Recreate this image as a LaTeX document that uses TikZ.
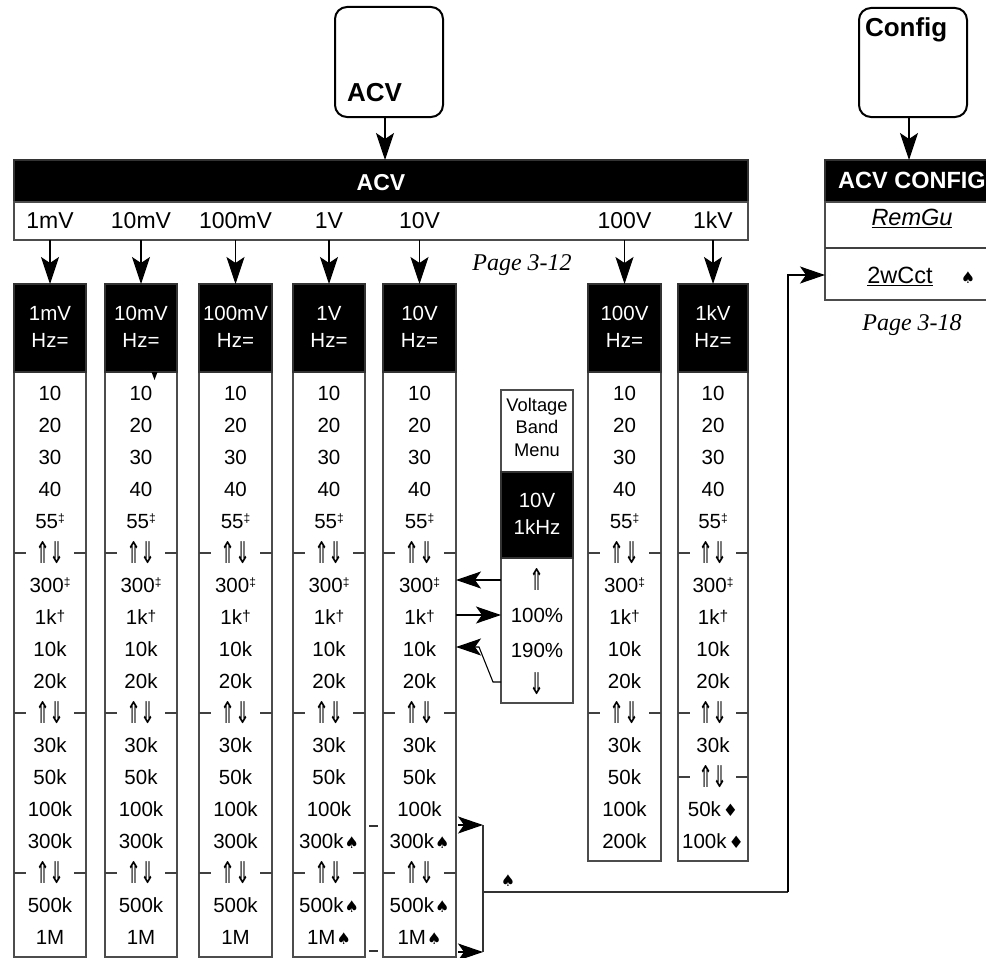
\documentclass[tikz,border=0pt]{standalone}
\usepackage{graphicx}
\usepackage{fontspec}
\setmainfont{Liberation Sans}
\newfontfamily\serifit{Liberation Serif}
\newfontfamily\djv{DejaVu Sans}
\usetikzlibrary{arrows.meta,calc}
\newcommand\fs[1]{\fontsize{#1}{#1}\selectfont}
\newcommand\myar[1]{\raisebox{-2.5pt}{\djv\fs{30}\scalebox{0.6}[1]{#1}}}
\newcommand\myUD{\myar{⇑}\kern-1pt\myar{⇓}}
\newcommand\myup{\myar{⇑}}
\newcommand\mydn{\myar{⇓}}
\newcommand\myddag{\raisebox{6pt}{\fs{12}‡}}
\newcommand\mydag{\raisebox{3pt}{\fs{15.5}†}}
\newcommand\myspade{\kern1pt{\djv\fs{16}♠}}
\newcommand\mydiam{\kern2pt{\djv\fs{17}♦}}
\newcommand\mkcol[7]{%
  \node[body, anchor=north west, minimum width=#3-#2, minimum height=#4-372] (#1b) at (#2,372) {};
  \node[hdr, anchor=north west, minimum width=#3-#2, minimum height=88] (#1h) at (#2,284) {};
  \node[wt] (#1ta) at ({(#2+#3)/2},313) {#5};
  \node[wt] (#1tb) at ({(#2+#3)/2},340) {Hz=};
  \node[lab] (#1s) at ({(#2+#3)/2},220) {#5};
  \draw[arr] (#1h.north |- strip.south) -- (#1h.north);
  \foreach \t [count=\k from 0] in {#6} {\node[row] (#1r\k) at ({(#2+#3)/2},{393+32*\k}) {\t};}
  \foreach \s in {#7} {\draw[ln] (#2,{393+32*\s}) -- ++(12,0) (#3,{393+32*\s}) -- ++(-12,0);}
}
\begin{document}
\begin{tikzpicture}[x=1pt,y=-1pt,
  every node/.style={inner sep=0pt, outer sep=0pt},
  ln/.style={draw=black!75, line width=1.2pt},
  hdr/.style={fill=black, draw=black!80, line width=1.2pt},
  body/.style={fill=white, draw=black!70, line width=1.2pt},
  btn/.style={draw=black, line width=2pt, rounded corners=12pt, fill=white},
  arr/.style={draw=black, line width=1.1pt, -{Stealth[length=27pt,width=18pt,inset=6pt]}},
  harr/.style={draw=black, line width=1.1pt, -{Stealth[length=25pt,width=17pt,inset=6pt]}},
  row/.style={font=\fs{20.5}, text height=15pt, text depth=0pt},
  lab/.style={font=\fs{23}, text height=16.5pt, text depth=0pt},
  wt/.style={font=\fs{20.5}, text=white, text height=15pt, text depth=0pt},
  pg/.style={font=\serifit\itshape\fs{24}, text height=16pt, text depth=0pt},
]
\clip (0,0) rectangle (986,958);
\fill[white] (0,0) rectangle (986,958);

% ACV button and bar
\node[btn, anchor=north west, minimum width=108, minimum height=110] (acvbtn) at (335,7) {};
\node[font=\bfseries\fs{26}, anchor=base west] (acvbtntxt) at (347,102) {ACV};
\node[hdr, anchor=north west, minimum width=734, minimum height=42] (acvbar) at (14,160) {};
\node[font=\bfseries\fs{23}, text=white, text height=16.5pt, text depth=0pt] (acvbartxt) at (381,182) {ACV};
\node[body, anchor=north west, minimum width=734, minimum height=38] (strip) at (14,202) {};
\draw[arr] ([xshift=-4pt]acvbtn.south) -- ([xshift=-4pt]acvbtn.south |- acvbar.north);
\node[pg] (pg12) at (522,262) {Page 3-12};

% columns
\mkcol{ca}{14}{86}{957}{1mV}{10,20,30,40,55\myddag,\myUD,300\myddag,1k\mydag,10k,20k,\myUD,30k,50k,100k,300k,\myUD,500k,1M}{5,10,15}
\mkcol{cb}{105}{177}{957}{10mV}{10,20,30,40,55\myddag,\myUD,300\myddag,1k\mydag,10k,20k,\myUD,30k,50k,100k,300k,\myUD,500k,1M}{5,10,15}
\mkcol{cc}{199}{272}{957}{100mV}{10,20,30,40,55\myddag,\myUD,300\myddag,1k\mydag,10k,20k,\myUD,30k,50k,100k,300k,\myUD,500k,1M}{5,10,15}
\mkcol{cd}{293}{365}{957}{1V}{10,20,30,40,55\myddag,\myUD,300\myddag,1k\mydag,10k,20k,\myUD,30k,50k,100k,300k\myspade,\myUD,500k\myspade,1M\myspade}{5,10,15}
\mkcol{ce}{383}{456}{957}{10V}{10,20,30,40,55\myddag,\myUD,300\myddag,1k\mydag,10k,20k,\myUD,30k,50k,100k,300k\myspade,\myUD,500k\myspade,1M\myspade}{5,10,15}
\mkcol{cf}{588}{661}{861}{100V}{10,20,30,40,55\myddag,\myUD,300\myddag,1k\mydag,10k,20k,\myUD,30k,50k,100k,200k}{5,10}
\mkcol{cg}{678}{748}{861}{1kV}{10,20,30,40,55\myddag,\myUD,300\myddag,1k\mydag,10k,20k,\myUD,30k,\myUD,50k\mydiam,100k\mydiam}{5,10,12}

% small mark under 10mV header
\fill (151.5,372) -- (157.5,372) -- (154.5,380) -- cycle;

% Voltage band menu
\node[body, anchor=north west, minimum width=72, minimum height=313] (vbm) at (501,390) {};
\node[hdr, anchor=north west, minimum width=72, minimum height=86] (vbmh) at (501,472) {};
\node[font=\fs{18.3}, text height=13pt, text depth=0pt] (vb1) at (537,405) {Voltage};
\node[font=\fs{18.3}, text height=13pt, text depth=0pt] (vb2) at (537,427) {Band};
\node[font=\fs{18.3}, text height=13pt, text depth=0pt] (vb3) at (537,450) {Menu};
\node[wt] (vb4) at (537,500) {10V};
\node[wt] (vb5) at (537,527) {1kHz};
\node[row] (vup) at (537,580) {\myup};
\node[row] (v100) at (537,615) {100\%};
\node[row] (v190) at (537,650) {190\%};
\node[row] (vdn) at (537,684) {\mydn};

\draw[harr] (vup -| vbm.west) -- (vup -| ceb.east);
\draw[harr] (v100 -| ceb.east) -- (v100 -| vbm.west);
\coordinate (kink1) at (493,682);
\coordinate (kink2) at (479,647);
\draw[harr] (kink1 -| vbm.west) -- (kink1) -- (kink2) -- (kink2 -| ceb.east);

% spade bracket to 2wCct
\coordinate (brt) at (483,825);
\coordinate (brb) at (483,952);
\coordinate (brm) at (483,892);
\coordinate (brc) at (788,892);
\draw[harr] ([xshift=2pt]brt -| ceb.east) -- (brt);
\draw[harr] ([xshift=2pt]brb -| ceb.east) -- (brb);
\draw[ln, draw=black!80] (brt) -- (brb);
\draw[ln, draw=black!80] (369,826) -- (378,826) (369,951) -- (378,951);
\node[font=\djv\fs{16}] (spl) at (508,881) {♠};

% Config
\node[btn, anchor=north west, minimum width=108, minimum height=109] (cfgbtn) at (859,8) {};
\node[font=\bfseries\fs{26}, anchor=base west] (cfgbtntxt) at (865,37) {Config};
\node[hdr, anchor=north west, minimum width=174, minimum height=42] (cfghdr) at (825,160) {};
\node[body, anchor=north west, minimum width=174, minimum height=98] (cfgbody) at (825,202) {};
\draw[ln] (cfgbody.west |- 0,248) -- (cfgbody.east |- 0,248);
\draw[arr] ([xshift=-4pt]cfgbtn.south) -- ([xshift=-4pt]cfgbtn.south |- cfghdr.north);
\node[font=\bfseries\fs{23.5}, text=white, text height=17pt, text depth=0pt] (cfgtxt) at (912,180) {ACV CONFIG};
\node[font=\itshape\fs{23.5}, text height=17pt, text depth=0pt] (remgu) at (912,217) {\underline{RemGu}};
\node[font=\fs{23.5}, text height=17pt, text depth=0pt] (cct) at (900,275) {\underline{2wCct}};
\node[font=\djv\fs{16}] (cctsp) at (968,278) {♠};
\node[pg] (pg18) at (912,322) {Page 3-18};

\draw[ln, draw=black!80] (brm) -- (brc);
\draw[harr] (brc) -- (brc |- cct) -- (cct -| cfgbody.west);
\end{tikzpicture}
\end{document}
